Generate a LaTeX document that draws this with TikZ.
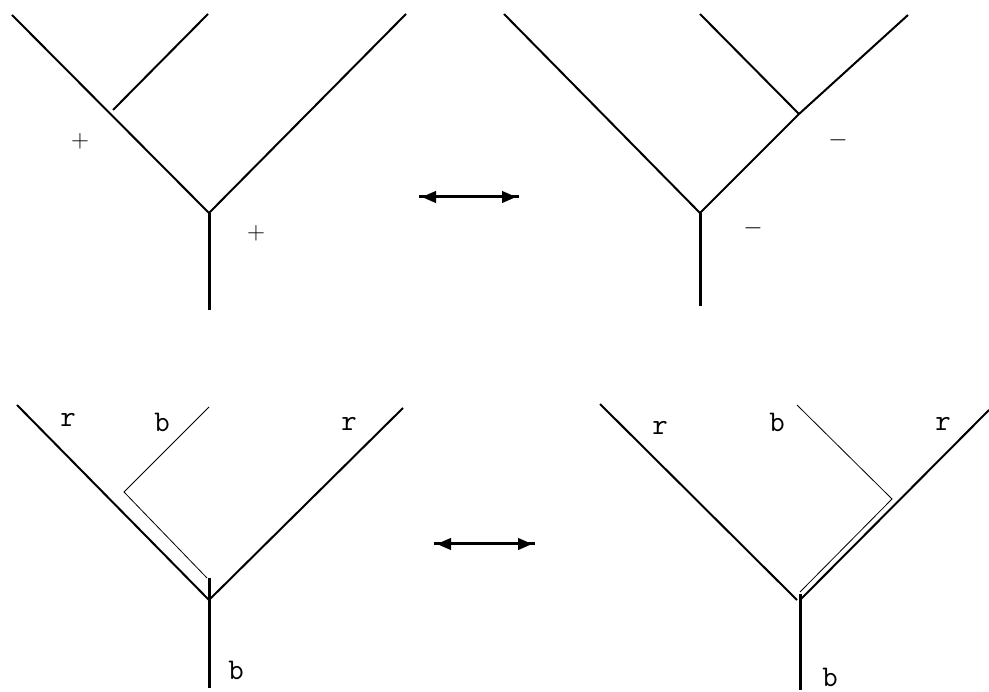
\documentclass[tikz,border=0pt]{standalone}
\usetikzlibrary{arrows.meta}
\begin{document}
\begin{tikzpicture}[x=1pt,y=-1pt,
  branch/.style={line width=2pt,line cap=butt},
  trunk/.style={line width=3pt},
  thinline/.style={line width=0.8pt,line join=miter},
  dblarrow/.style={line width=1pt,{Triangle[length=14pt,width=12pt]}-{Triangle[length=14pt,width=12pt]}},
  lbl/.style={inner sep=0pt,font=\fontsize{30}{36}\selectfont\ttfamily},
  sgn/.style={inner sep=0pt,font=\fontsize{30}{36}\selectfont}]
\useasboundingbox (0,0) rectangle (989,692);
% ---- top left tree
\coordinate (tlR) at (209,213);
\coordinate (tlB) at (209,310);
\coordinate (tlL) at (12,15);
\coordinate (tlRt) at (406,14);
\coordinate (tlIa) at (113,110);
\coordinate (tlIb) at (208,14);
\draw[branch] (tlL) -- (tlR) -- (tlRt);
\draw[branch] (tlIa) -- (tlIb);
\draw[trunk] (tlR) -- (tlB);
\node[sgn] (p1) at (80,141) {$+$};
\node[sgn] (p2) at (256,233) {$+$};
% ---- top arrow
\coordinate (a1l) at (419,197);
\coordinate (a1r) at (519,197);
\coordinate (a1lh) at (422,197);
\coordinate (a1rh) at (516,197);
\draw[line width=3pt] (a1l) -- (a1r);
\draw[dblarrow] (a1lh) -- (a1rh);
% ---- top right tree
\coordinate (trR) at (700,213);
\coordinate (trB) at (700,306);
\coordinate (trL) at (504,14);
\coordinate (trJ) at (799,114);
\coordinate (trRt) at (908,15);
\coordinate (trI) at (700,14);
\draw[branch] (trL) -- (trR) -- (trJ) -- (trRt);
\draw[branch] (trJ) -- (trI);
\draw[trunk] (trR) -- (trB);
\node[sgn] (m1) at (838,140) {$-$};
\node[sgn] (m2) at (753,228) {$-$};
% ---- bottom left tree
\coordinate (blR) at (209,600);
\coordinate (blTt) at (209,578);
\coordinate (blB) at (209,688);
\coordinate (blL) at (17,405);
\coordinate (blRt) at (403,408);
\coordinate (blTa) at (207,578);
\coordinate (blTk) at (124,492);
\coordinate (blTb) at (209,407);
\draw[branch] (blL) -- (blR) -- (blRt);
\draw[trunk] (blTt) -- (blB);
\draw[thinline] (blTa) -- (blTk) -- (blTb);
\node[lbl] (blr1) at (68,420) {r};
\node[lbl] (blb1) at (162,422) {b};
\node[lbl] (blr2) at (349,424) {r};
\node[lbl] (blb2) at (236,670) {b};
% ---- bottom arrow
\coordinate (a2l) at (434,544);
\coordinate (a2r) at (535,544);
\coordinate (a2lh) at (437,544);
\coordinate (a2rh) at (532,544);
\draw[line width=3pt] (a2l) -- (a2r);
\draw[dblarrow] (a2lh) -- (a2rh);
% ---- bottom right tree
\coordinate (brR) at (800,600);
\coordinate (brTt) at (800,594);
\coordinate (brB) at (800,690);
\coordinate (brL) at (600,404);
\coordinate (brLe) at (797,600);
\coordinate (brRt) at (989,410);
\coordinate (brTa) at (800,592);
\coordinate (brTk) at (892,499);
\coordinate (brTb) at (797,405);
\draw[branch] (brL) -- (brLe);
\draw[branch] (brR) -- (brRt);
\draw[trunk] (brTt) -- (brB);
\draw[thinline] (brTa) -- (brTk) -- (brTb);
\node[lbl] (brr1) at (660,428) {r};
\node[lbl] (brb1) at (777,422) {b};
\node[lbl] (brr2) at (943,424) {r};
\node[lbl] (brb2) at (830,677) {b};
\end{tikzpicture}
\end{document}
